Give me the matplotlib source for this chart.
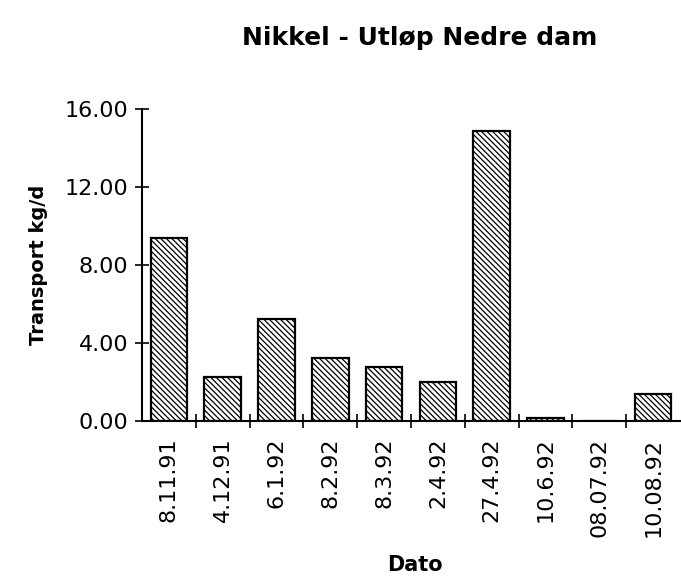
import numpy as np
import matplotlib
matplotlib.use('Agg')
import matplotlib.pyplot as plt

# data
dates = ["8.11.91", "4.12.91", "6.1.92", "8.2.92", "8.3.92",
         "2.4.92", "27.4.92", "10.6.92", "08.07.92", "10.08.92"]
transport = [9.40, 2.24, 5.25, 3.25, 2.78, 1.98, 14.87, 0.15, 0.0, 1.37]
yticks = [0, 4, 8, 12, 16]

plt.rcParams['font.family'] = ['DejaVu Sans']
plt.rcParams['hatch.linewidth'] = 0.9

fig = plt.figure(figsize=(6.81, 5.80), dpi=100)
ax = fig.add_axes([142/681, 1-421/580, 538/681, (421-109.3)/580])

x = np.arange(len(dates))
ax.bar(x, transport, width=0.68, color='white', edgecolor='black',
       linewidth=1.6, hatch='\\\\\\\\\\\\')

ax.set_xlim(-0.5, len(dates) - 0.5)
ax.set_ylim(0, 16)
ax.set_yticks(yticks)
ax.set_yticklabels([f"{v:.2f}" for v in yticks], fontsize=16)

# labels in the middle, ticks at the category boundaries
ax.set_xticks(x)
ax.set_xticklabels(dates, rotation=90, fontsize=16)
ax.tick_params(axis='x', which='major', length=0, pad=12)
ax.set_xticks(np.arange(0.5, len(dates) - 0.5, 1), minor=True)
ax.tick_params(axis='x', which='minor', direction='inout', length=10, width=1.2)
ax.tick_params(axis='y', direction='inout', length=10, width=1.2, pad=5)

for s in ['top', 'right']:
    ax.spines[s].set_visible(False)
ax.spines['left'].set_linewidth(1.5)
ax.spines['bottom'].set_linewidth(1.5)

ax.set_ylabel("Transport kg/d", fontsize=14, fontweight='bold', labelpad=12)
fig.text(415/681, 1-565/580, "Dato", ha='center', va='center',
         fontsize=15, fontweight='bold')
fig.text(420/681, 1-38/580, "Nikkel - Utløp Nedre dam", ha='center',
         va='center', fontsize=18, fontweight='bold')

fig.savefig("out.png", dpi=100)
